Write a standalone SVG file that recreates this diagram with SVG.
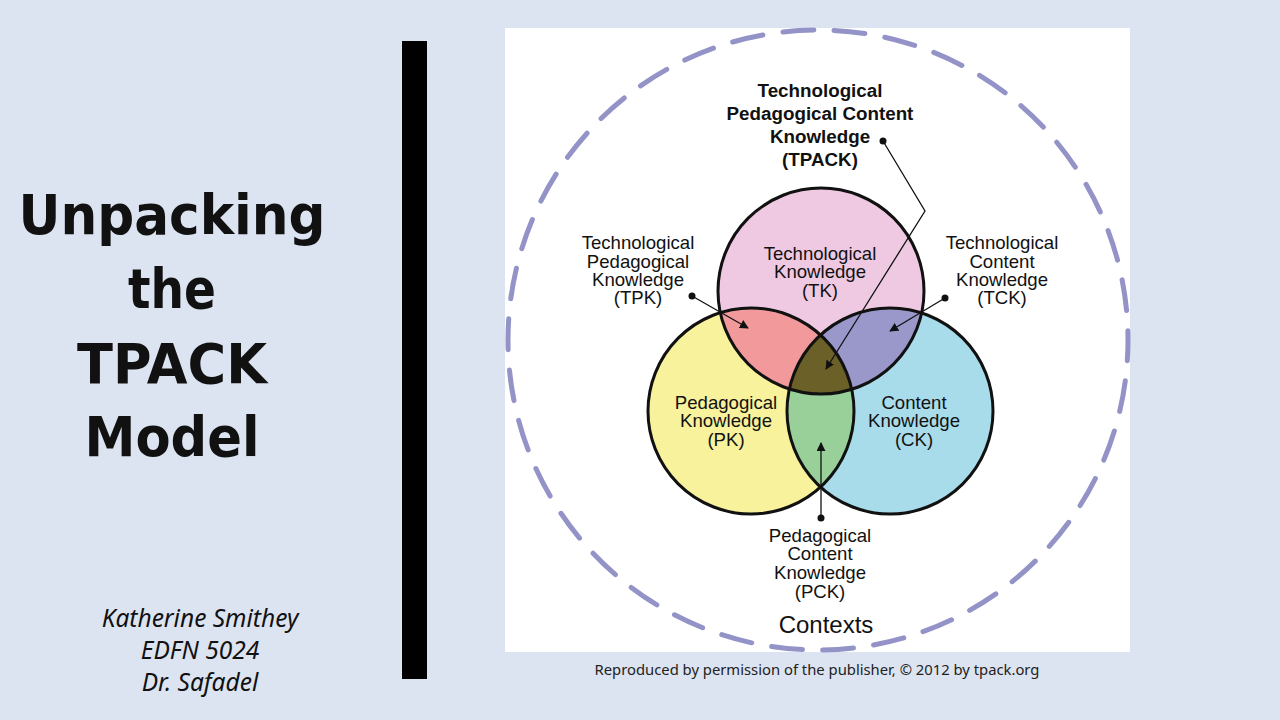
<svg xmlns="http://www.w3.org/2000/svg" width="1280" height="720" viewBox="0 0 1280 720">
<defs>
<style>
.lbl{font-family:"Liberation Sans",Arial,sans-serif;font-size:18.6px;fill:#111;text-anchor:middle}
.bold{font-weight:bold;font-size:18.8px}
.ttl{font-family:"DejaVu Sans","Liberation Sans",sans-serif;font-size:56px;font-weight:bold;fill:#111;text-anchor:middle}
.auth{font-family:"Noto Sans","Liberation Sans",sans-serif;font-style:italic;font-size:24.5px;fill:#111;text-anchor:middle}
.ring{fill:none;stroke:#111;stroke-width:3}
.conn{stroke:#111;stroke-width:1.3;fill:none}
.dot{fill:#111}
</style>
<clipPath id="cTK"><circle cx="821" cy="291" r="103"/></clipPath>
<clipPath id="cPK"><circle cx="751" cy="411" r="103"/></clipPath>
<clipPath id="cCK"><circle cx="890" cy="411" r="103"/></clipPath>
<marker id="ah" viewBox="0 0 10 10" refX="9" refY="5" markerWidth="9" markerHeight="9" markerUnits="userSpaceOnUse" orient="auto">
<path d="M0,0 L10,5 L0,10 z" fill="#111"/>
</marker>
</defs>
<rect width="1280" height="720" fill="#dde4f1"/>
<g id="title">
<text class="ttl" x="172" y="234" textLength="307" lengthAdjust="spacingAndGlyphs">Unpacking</text>
<text class="ttl" x="172" y="308" textLength="88" lengthAdjust="spacingAndGlyphs">the</text>
<text class="ttl" x="172" y="383" textLength="190" lengthAdjust="spacingAndGlyphs">TPACK</text>
<text class="ttl" x="172" y="456" textLength="175" lengthAdjust="spacingAndGlyphs">Model</text>
</g>
<g id="author">
<text class="auth" x="200" y="627">Katherine Smithey</text>
<text class="auth" x="200" y="659">EDFN 5024</text>
<text class="auth" x="200" y="691">Dr. Safadel</text>
</g>
<rect id="bar" x="402" y="41" width="25" height="638" fill="#000"/>
<rect id="panel" x="505" y="28" width="625" height="624" fill="#fff"/>
<g id="contexts">
<circle cx="818" cy="340" r="310" fill="none" stroke="#9393c8" stroke-width="5" stroke-linecap="round" stroke-dasharray="31 20.26" stroke-dashoffset="10.2"/>
<text class="lbl" x="826" y="633" style="font-size:24px">Contexts</text>
</g>
<g id="TK"><circle cx="821" cy="291" r="103" fill="#efc9e1"/></g>
<g id="PK"><circle cx="751" cy="411" r="103" fill="#f7f29b"/></g>
<g id="CK"><circle cx="890" cy="411" r="103" fill="#a9dcea"/></g>
<g id="TPK"><circle cx="751" cy="411" r="103" fill="#f29a9b" clip-path="url(#cTK)"/></g>
<g id="TCK"><circle cx="890" cy="411" r="103" fill="#9a97cb" clip-path="url(#cTK)"/></g>
<g id="PCK"><circle cx="890" cy="411" r="103" fill="#99cf99" clip-path="url(#cPK)"/></g>
<g id="TPACK"><g clip-path="url(#cTK)"><circle cx="890" cy="411" r="103" fill="#6b6128" clip-path="url(#cPK)"/></g></g>
<g id="rings">
<circle class="ring" cx="821" cy="291" r="103"/>
<circle class="ring" cx="751" cy="411" r="103"/>
<circle class="ring" cx="890" cy="411" r="103"/>
</g>
<g id="labels">
<text class="lbl" x="820" y="260">Technological</text>
<text class="lbl" x="820" y="278">Knowledge</text>
<text class="lbl" x="820" y="297">(TK)</text>
<text class="lbl" x="726" y="409">Pedagogical</text>
<text class="lbl" x="726" y="427">Knowledge</text>
<text class="lbl" x="726" y="446">(PK)</text>
<text class="lbl" x="914" y="409">Content</text>
<text class="lbl" x="914" y="427">Knowledge</text>
<text class="lbl" x="914" y="446">(CK)</text>
<text class="lbl" x="638" y="249">Technological</text>
<text class="lbl" x="638" y="268">Pedagogical</text>
<text class="lbl" x="638" y="286">Knowledge</text>
<text class="lbl" x="638" y="304">(TPK)</text>
<text class="lbl" x="1002" y="249">Technological</text>
<text class="lbl" x="1002" y="268">Content</text>
<text class="lbl" x="1002" y="286">Knowledge</text>
<text class="lbl" x="1002" y="304">(TCK)</text>
<text class="lbl" x="820" y="542">Pedagogical</text>
<text class="lbl" x="820" y="560">Content</text>
<text class="lbl" x="820" y="579">Knowledge</text>
<text class="lbl" x="820" y="598">(PCK)</text>
<text class="lbl bold" x="820" y="97">Technological</text>
<text class="lbl bold" x="820" y="120">Pedagogical Content</text>
<text class="lbl bold" x="820" y="143">Knowledge</text>
<text class="lbl bold" x="820" y="166">(TPACK)</text>
</g>
<g id="connectors">
<polyline class="conn" points="883,141 925,211 826,369" marker-end="url(#ah)"/>
<circle class="dot" cx="883" cy="141" r="3.5"/>
<line class="conn" x1="692" y1="296" x2="748" y2="328" marker-end="url(#ah)"/>
<circle class="dot" cx="692" cy="296" r="3.5"/>
<line class="conn" x1="945" y1="298" x2="890" y2="331" marker-end="url(#ah)"/>
<circle class="dot" cx="945" cy="298" r="3.5"/>
<line class="conn" x1="821" y1="518" x2="821" y2="443" marker-end="url(#ah)"/>
<circle class="dot" cx="821" cy="518" r="3.5"/>
</g>
<text id="caption" x="817" y="675" style="font-family:'Noto Sans','Liberation Sans',sans-serif;font-size:14.8px;fill:#222;text-anchor:middle">Reproduced by permission of the publisher, © 2012 by tpack.org</text>
</svg>
